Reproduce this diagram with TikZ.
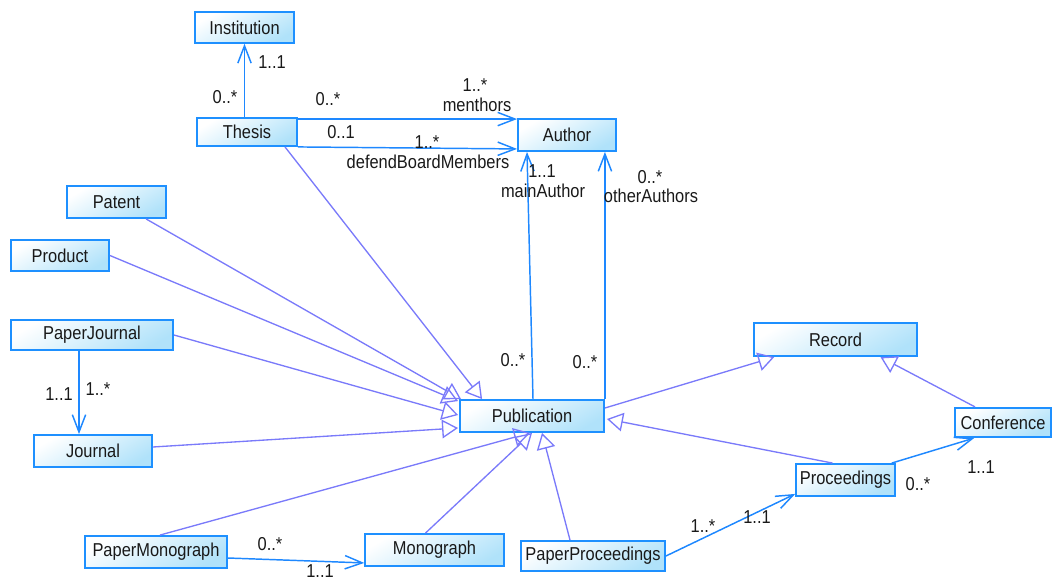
\documentclass[tikz,border=0pt]{standalone}
\usepackage{fontspec}
\setmainfont[FakeStretch=0.88]{Liberation Sans}
\usepackage{xcolor}
\usetikzlibrary{positioning,arrows.meta,calc}

\definecolor{boxline}{RGB}{30,144,255}
\definecolor{boxfill}{RGB}{176,226,250}
\definecolor{asccol}{RGB}{30,136,255}
\definecolor{gencol}{RGB}{122,122,250}
\definecolor{txt}{RGB}{25,25,25}

\begin{document}
\begin{tikzpicture}[
  x=0.75pt, y=-0.75pt,
  cls/.style={draw=boxline, line width=1.4pt, top color=white, bottom color=boxfill,
              shading angle=30, text=txt, inner sep=0pt, minimum height=24pt,
              font=\fontsize{14}{16}\selectfont},
  lbl/.style={text=txt, inner sep=0pt, font=\fontsize{14}{16}\selectfont},
  asc/.style={draw=asccol, line width=1.1pt, -{Straight Barb[length=13pt, width=10pt]}},
  gen/.style={draw=gencol, line width=1pt, -{Triangle[open, length=12pt, width=14pt]}}
]
  \useasboundingbox (0,0) rectangle (1052,581);

  % --- classes
  \node[cls, minimum width=74pt, minimum height=23pt] (inst) at (244.5,27.5) {Institution};
  \node[cls, minimum width=75pt, minimum height=21pt] (thesis) at (247,132) {Thesis};
  \node[cls, minimum width=73.5pt] (auth) at (567,135) {Author};
  \node[cls, minimum width=74pt] (patent) at (116.5,202) {Patent};
  \node[cls, minimum width=73.5pt, minimum height=23pt] (prod) at (60,255.5) {Product};
  \node[cls, minimum width=121.5pt, minimum height=22.5pt] (pj) at (92,335) {PaperJournal};
  \node[cls, minimum width=88.5pt] (journal) at (93,451) {Journal};
  \node[cls, minimum width=108pt] (pub) at (532,416) {Publication};
  \node[cls, minimum width=122pt, minimum height=25pt] (rec) at (835.5,339.5) {Record};
  \node[cls, minimum width=72pt, minimum height=22pt] (conf) at (1003,422.5) {Conference};
  \node[cls, minimum width=74pt] (proc) at (845.5,480) {Proceedings};
  \node[cls, minimum width=106.5pt] (pm) at (156,552) {PaperMonograph};
  \node[cls, minimum width=104pt] (mono) at (434.5,550) {Monograph};
  \node[cls, minimum width=108pt, minimum height=22.5pt] (pp) at (593,556) {PaperProceedings};

  % --- associations
  \draw[asc] (inst.south |- thesis.north) -- (inst.south);
  \draw[asc] ($(thesis.north east)+(0,2)$) -- ($(auth.north west)+(0,1)$);
  \draw[asc] (thesis.south east) -- ($(auth.south west)+(0,-3)$);
  \draw[asc] ($(pub.north)+(1,0)$) -- ($(auth.south)+(-40,0)$);
  \draw[asc] (pub.north east) -- (pub.north east |- auth.south);
  \draw[asc] ($(pj.south)+(-13,0)$) -- ($(journal.north)+(-14,0)$);
  \draw[asc] ($(pm.east)+(0,6)$) -- ($(mono.south west)+(0,-4)$);
  \draw[asc] (pp.east) -- ($(proc.south west)+(0,-3)$);
  \draw[asc] ($(proc.north east)+(-4,0)$) -- ($(conf.south west)+(20,0)$);

  % --- generalizations
  \draw[gen] ($(thesis.south)+(38,0)$) -- ($(pub.north west)+(23,0)$);
  \draw[gen] (patent) -- ($(pub.north west)+(2,0)$);
  \draw[gen] (prod.east) -- ($(pub.north west)+(-1,2)$);
  \draw[gen] (pj.east) -- ($(pub.west)+(-1,-1)$);
  \draw[gen] ($(journal.east)+(0,-4)$) -- ($(pub.west)+(-1,12)$);
  \draw[gen] ($(pm.north)+(4,0)$) -- ($(pub.south)+(-2,0)$);
  \draw[gen] ($(mono.north)+(-9,0)$) -- (pub.south);
  \draw[gen] ($(pp.north)+(-23,0)$) -- ($(pub.south)+(10,0)$);
  \draw[gen] ($(proc.north)+(-13,0)$) -- ($(pub.east)+(2,3)$);
  \draw[gen] ($(pub.east)+(0,-8)$) -- ($(rec.south west)+(21,0)$);
  \draw[gen] ($(conf.north)+(-28,0)$) -- ($(rec.south)+(45,0)$);

  % --- multiplicities and roles
  \node[lbl] (mInstB) at (272,62) {1..1};
  \node[lbl] (mInstA) at (225,97) {0..*};
  \node[lbl] (mMenA) at (328,99) {0..*};
  \node[lbl] (mMenB) at (475,85) {1..*};
  \node[lbl] (rMen) at (477,105) {menthors};
  \node[lbl] (mDefA) at (341,132) {0..1};
  \node[lbl] (mDefB) at (427,142) {1..*};
  \node[lbl] (rDef) at (428,162) {defendBoardMembers};
  \node[lbl] (mMainB) at (542,171) {1..1};
  \node[lbl] (rMain) at (543,191) {mainAuthor};
  \node[lbl] (mOthB) at (650,177) {0..*};
  \node[lbl] (rOth) at (651,196) {otherAuthors};
  \node[lbl] (mMainA) at (513,360) {0..*};
  \node[lbl] (mOthA) at (585,362) {0..*};
  \node[lbl] (mJouA) at (59,394) {1..1};
  \node[lbl] (mJouB) at (98,389) {1..*};
  \node[lbl] (mMonA) at (270,544) {0..*};
  \node[lbl] (mMonB) at (320,571) {1..1};
  \node[lbl] (mProcA) at (703,526) {1..*};
  \node[lbl] (mProcB) at (757,517) {1..1};
  \node[lbl] (mConfA) at (918,484) {0..*};
  \node[lbl] (mConfB) at (981,467) {1..1};
\end{tikzpicture}
\end{document}
